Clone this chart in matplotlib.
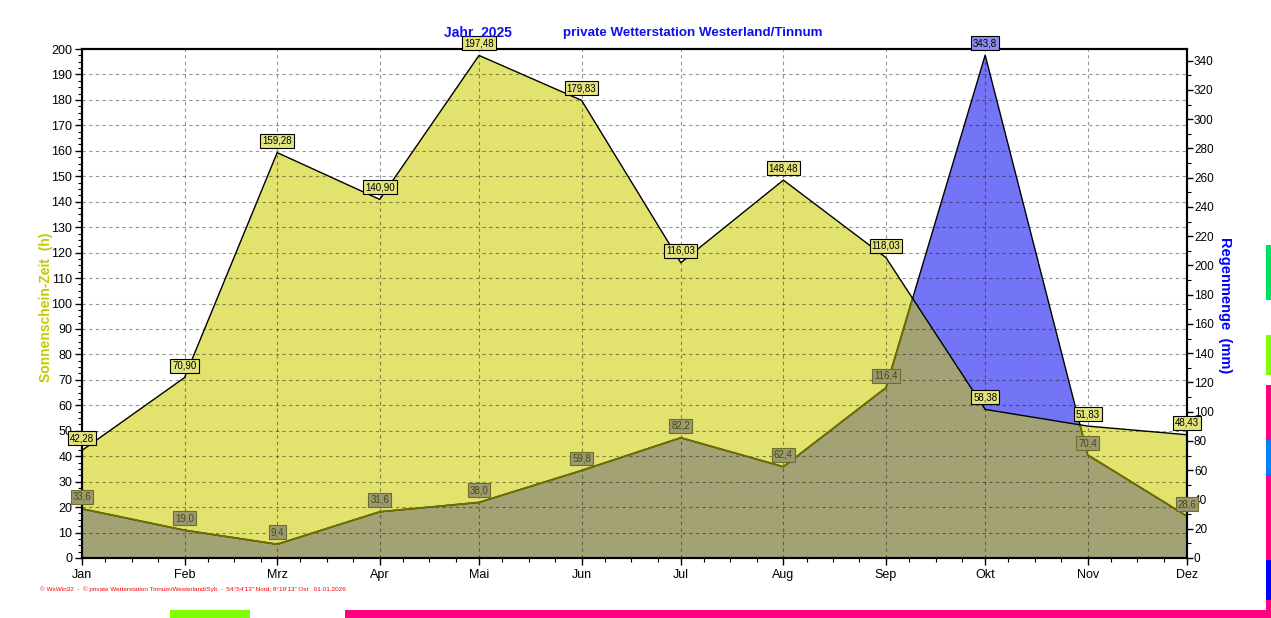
import matplotlib
matplotlib.use('Agg')
import matplotlib.pyplot as plt
import matplotlib.dates as mdates
from matplotlib.ticker import MultipleLocator
from matplotlib.patches import Rectangle
import numpy as np
import pandas as pd

# ---------------- data ----------------
year = 2025
months = ['Jan', 'Feb', 'Mrz', 'Apr', 'Mai', 'Jun', 'Jul', 'Aug', 'Sep', 'Okt', 'Nov', 'Dez']
sunshine_h = [42.28, 70.90, 159.28, 140.90, 197.48, 179.83, 116.03, 148.48, 118.03, 58.38, 51.83, 48.43]
rain_mm = [33.6, 19.0, 9.4, 31.6, 38.0, 59.8, 82.2, 62.4, 116.4, 343.8, 70.4, 28.6]
left_ticks = list(range(0, 201, 10))
right_ticks = list(range(0, 341, 20))

title_left = 'Jahr  2025'
title_right = 'private Wetterstation Westerland/Tinnum'
ylabel_left = 'Sonnenschein-Zeit  (h)'
ylabel_right = 'Regenmenge  (mm)'
footer = ('\u00a9 WsWin32  -  \u00a9 private Wetterstation Tinnum/Westerland/Sylt  -  '
          '54\u00b054\'13" Nord; 8\u00b019\'13" Ost   01.01.2026')

sun_labels = [f'{v:.2f}'.replace('.', ',') for v in sunshine_h]
rain_labels = [f'{v:.1f}'.replace('.', ',') for v in rain_mm]

# ---------------- style ----------------
YEL = '#e2e26e'
BLUE = '#7474f6'
OLIVE = '#a3a275'
TITLE_BLUE = '#1010ee'
plt.rcParams['font.family'] = ['Liberation Sans', 'DejaVu Sans']

W, H = 1271, 618
fig = plt.figure(figsize=(W / 100, H / 100), dpi=100)
fig.patch.set_facecolor('white')

ax_l, ax_r, ax_t, ax_b = 82, 1187, 49, 558
ax = fig.add_axes([ax_l / W, 1 - ax_b / H, (ax_r - ax_l) / W, (ax_b - ax_t) / H])
ax2 = ax.twinx()

dates = pd.date_range(f'{year}-01-01', periods=12, freq='MS')
x = mdates.date2num(dates)

# fills
sun_fill = ax.fill_between(x, sunshine_h, 0, facecolor=YEL, edgecolor='none', zorder=1)
rain_fill = ax.fill_between(x, rain_mm, 0, transform=ax2.transData,
                            facecolor=BLUE, edgecolor='none', zorder=1.2)
olive_fill = ax.fill_between(x, rain_mm, 0, transform=ax2.transData,
                             facecolor=OLIVE, edgecolor='none', zorder=1.4)
sun_path = sun_fill.get_paths()[0]
olive_fill.set_clip_path(sun_path, ax.transData)

# lines
ax.plot(x, rain_mm, transform=ax2.transData, color='black', lw=1.0, zorder=3)
ol, = ax.plot(x, rain_mm, transform=ax2.transData, color='#707000', lw=1.3, zorder=3.1)
ol.set_clip_path(sun_path, ax.transData)
ax.plot(x, sunshine_h, color='black', lw=1.0, zorder=3.5)

# limits
ax.set_xlim(x[0], x[-1])
ax.set_ylim(0, 200)
ax2.set_ylim(0, 348)

# grid
ax.set_axisbelow(False)
ax.grid(True, which='major', linestyle=(0, (3, 3)), color='black', alpha=0.42, lw=0.8)

# ticks
ax.set_xticks(x)
ax.set_xticklabels(months)
ax.xaxis.set_minor_locator(mdates.DayLocator(bymonthday=[8, 16, 24]))
ax.set_yticks(left_ticks)
ax.yaxis.set_minor_locator(MultipleLocator(2.5))
ax2.set_yticks(right_ticks)
ax2.yaxis.set_minor_locator(MultipleLocator(10))
for a in (ax, ax2):
    a.tick_params(which='major', direction='out', length=5, width=1, labelsize=9, pad=2, colors='black')
    a.tick_params(which='minor', direction='out', length=3, width=0.8)
    for s in a.spines.values():
        s.set_linewidth(1.5)
        s.set_color('black')
ax.tick_params(axis='x', pad=3)
ax2.tick_params(axis='y', which='major', labelsize=8.5, pad=1, length=4)

# value labels
for xi, v, s in zip(x, sunshine_h, sun_labels):
    ax2.annotate(s, (xi, v), xycoords=ax.transData, xytext=(0, 12), textcoords='offset pixels',
                 ha='center', va='center', fontsize=7, color='black', zorder=10,
                 annotation_clip=False,
                 bbox=dict(boxstyle='square,pad=0.2', fc='#e4e47c', ec='black', lw=0.8))
for xi, v, s in zip(x, rain_mm, rain_labels):
    if v > 300:
        fc, ec, tc = '#8c8cf2', 'black', 'black'
    else:
        fc, ec, tc = '#9a9970', '#6e6e28', '#4a4a10'
    ax2.annotate(s, (xi, v), xycoords=ax2.transData, xytext=(0, 12), textcoords='offset pixels',
                 ha='center', va='center', fontsize=7, color=tc, zorder=9,
                 annotation_clip=False,
                 bbox=dict(boxstyle='square,pad=0.2', fc=fc, ec=ec, lw=0.8))

# titles and labels
fig.text(478 / W, 1 - 33 / H, title_left, color=TITLE_BLUE, fontsize=10, fontweight='bold',
         ha='center', va='center')
fig.text(693 / W, 1 - 33 / H, title_right, color=TITLE_BLUE, fontsize=9.6, fontweight='bold',
         ha='center', va='center')
fig.text(46 / W, 1 - 307 / H, ylabel_left, color='#c8c800', fontsize=10, fontweight='bold',
         rotation=90, ha='center', va='center')
fig.text(1225 / W, 1 - 305 / H, ylabel_right, color='#0000ff', fontsize=10.5, fontweight='bold',
         rotation=-90, ha='center', va='center')
fig.text(40 / W, 1 - 589 / H, footer, color='#ff0000', fontsize=4.6, ha='left', va='center')

# screenshot border fragments
def rect(x0, y0, x1, y1, c):
    fig.patches.append(Rectangle((x0 / W, 1 - y1 / H), (x1 - x0) / W, (y1 - y0) / H,
                                 transform=fig.transFigure, facecolor=c, edgecolor='none'))

rect(345, 610, 1271, 618, '#ff0080')
rect(170, 610, 250, 618, '#80ff00')
rect(1266, 385, 1271, 618, '#ff0080')
rect(1266, 245, 1271, 300, '#00e060')
rect(1266, 335, 1271, 375, '#80ff00')
rect(1266, 440, 1271, 475, '#0080ff')
rect(1266, 560, 1271, 600, '#0000ff')

fig.savefig('out.png', dpi=100)
